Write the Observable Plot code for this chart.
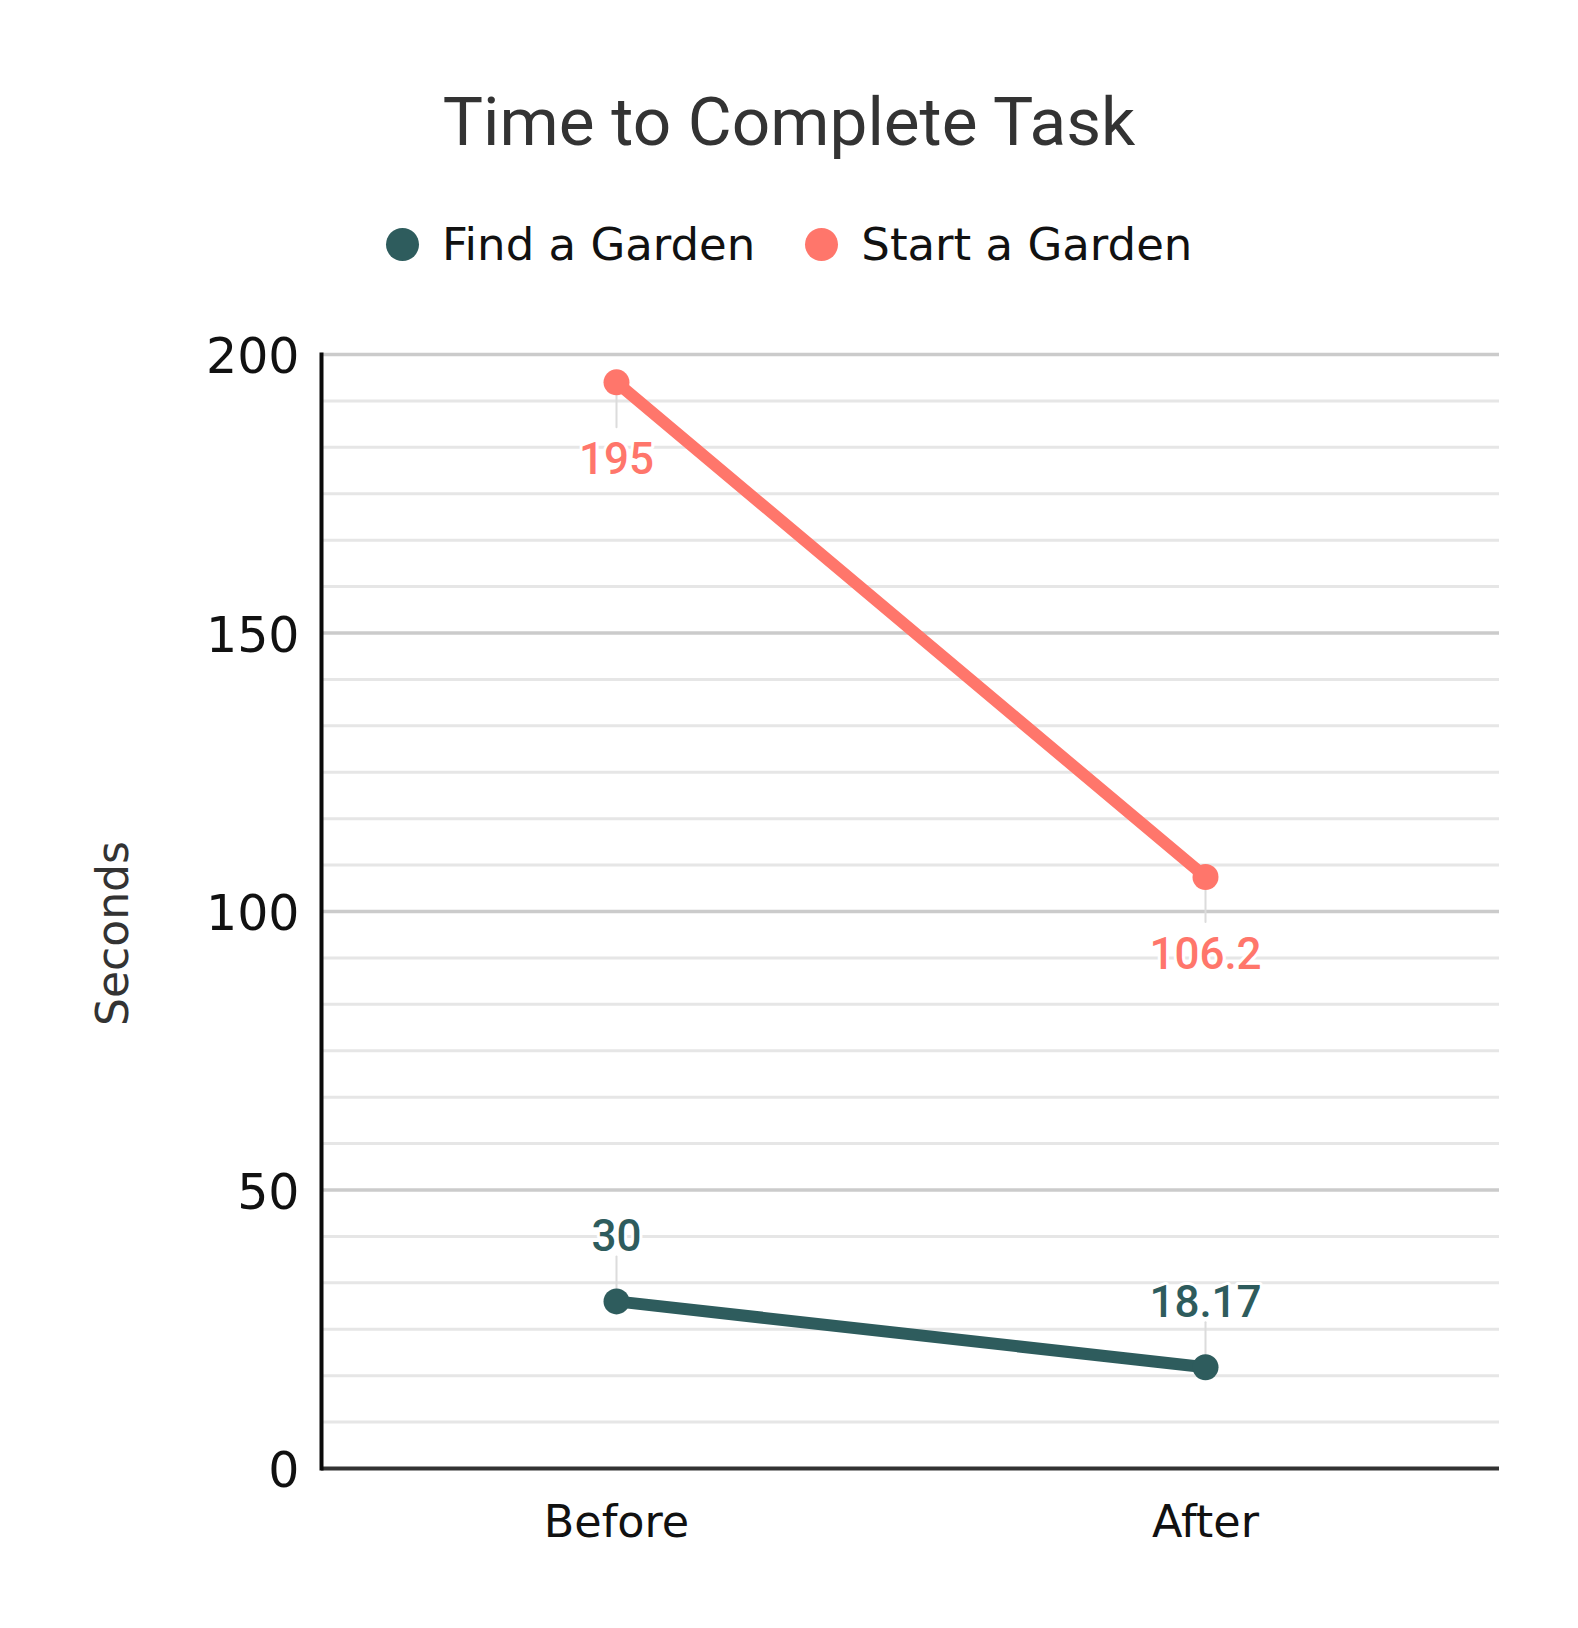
<!DOCTYPE html>
<html>
<head>
<meta charset="utf-8">
<script src="https://cdn.jsdelivr.net/npm/d3@7"></script>
<script src="https://cdn.jsdelivr.net/npm/@observablehq/plot@0.6"></script>
<style>
  html, body { margin: 0; padding: 0; background: #fff; }
  #page { position: relative; width: 1578px; height: 1628px; overflow: hidden; }
  #header { position: relative; width: 1578px; height: 290px; }
  #title { position: absolute; top: 88px; left: 0; width: 1578px; box-sizing: border-box; padding-right: 0px;
           text-align: center; font-family: Roboto, sans-serif; font-size: 67.5px; line-height: 67px; color: #333; }
  #legend { position: absolute; top: 222px; left: 386px; display: flex; align-items: center; height: 45px;
            font-family: "DejaVu Sans", sans-serif; font-size: 45px; line-height: 45px; color: #111; white-space: nowrap; }
  .item { display: flex; align-items: center; margin-right: 50px; }
  .swatch { width: 33px; height: 33px; border-radius: 50%; margin-right: 23px; }
  #chart svg { display: block; }
</style>
</head>
<body>
<div id="page">
  <div id="header">
    <div id="title"></div>
    <div id="legend"></div>
  </div>
  <div id="chart"></div>
</div>
<script>
const titleText = "Time to Complete Task";
const yLabel = "Seconds";
const categories = ["Before", "After"];
const seriesNames = ["Find a Garden", "Start a Garden"];
const seriesColors = ["#2e5c5d", "#ff766b"];
const findValues = [30, 18.17];
const startValues = [195, 106.2];
const findLabels = ["30", "18.17"];
const startLabels = ["195", "106.2"];
const yMajorTicks = [0, 50, 100, 150, 200];
const yMinorTicks = d3.range(0, 200, 50 / 6).filter((v, i) => i % 6 !== 0);

document.getElementById("title").textContent = titleText;
const legend = document.getElementById("legend");
seriesNames.forEach((name, i) => {
  const item = document.createElement("div");
  item.className = "item";
  const sw = document.createElement("span");
  sw.className = "swatch";
  sw.style.background = seriesColors[i];
  const tx = document.createElement("span");
  tx.textContent = name;
  item.appendChild(sw); item.appendChild(tx);
  legend.appendChild(item);
});

const table = [];
categories.forEach((c, i) => {
  table.push({category: c, value: findValues[i], label: findLabels[i], series: seriesNames[0], pos: "above"});
});
categories.forEach((c, i) => {
  table.push({category: c, value: startValues[i], label: startLabels[i], series: seriesNames[1], pos: "below"});
});
const above = table.filter(d => d.pos === "above");
const below = table.filter(d => d.pos === "below");

const leader = { draw(context, l) { context.moveTo(0, 0); context.lineTo(0, -l); } };

const chart = Plot.plot({
  width: 1578,
  height: 1338,
  marginTop: 64,
  marginBottom: 160,
  marginLeft: 321,
  marginRight: 79,
  style: { fontFamily: "DejaVu Sans, sans-serif", background: "white", overflow: "visible" },
  x: { type: "point", domain: categories, padding: 0.5 },
  y: { domain: [0, 200] },
  color: { domain: seriesNames, range: seriesColors },
  marks: [
    Plot.ruleY(yMinorTicks, { stroke: "#e6e6e6", strokeWidth: 3 }),
    Plot.ruleY(yMajorTicks.filter(v => v > 0), { stroke: "#cbcbcb", strokeWidth: 3.5 }),
    Plot.axisY({ ticks: yMajorTicks, tickSize: 0, tickPadding: 22, fontSize: 49, color: "#111", label: null, dy: 3 }),
    Plot.axisX({ tickSize: 0, tickPadding: 37, fontSize: 44.5, color: "#111", label: null }),
    Plot.text([yLabel], { frameAnchor: "left", textAnchor: "middle", text: d => d, rotate: -90, dx: -208, dy: 22, fontSize: 44, fill: "#333" }),
    Plot.vector(above, { x: "category", y: "value", length: 45, rotate: 0, anchor: "start", shape: leader, stroke: "#dcdcdc", strokeWidth: 2 }),
    Plot.vector(below, { x: "category", y: "value", length: 45, rotate: 180, anchor: "start", shape: leader, stroke: "#dcdcdc", strokeWidth: 2 }),
    Plot.line(table, { x: "category", y: "value", z: "series", stroke: "series", strokeWidth: 12 }),
    Plot.dot(table, { x: "category", y: "value", fill: "series", r: 13 }),
    Plot.text(above, { x: "category", y: "value", text: "label", fill: "series", dy: -64, fontSize: 44, fontWeight: 500, fontFamily: "Roboto", stroke: "white", strokeWidth: 6 }),
    Plot.text(below, { x: "category", y: "value", text: "label", fill: "series", dy: 78, fontSize: 44, fontWeight: 500, fontFamily: "Roboto", stroke: "white", strokeWidth: 6 }),
    Plot.ruleY([0], { stroke: "#333", strokeWidth: 4 }),
    Plot.frame({ anchor: "left", stroke: "#0a0a0a", strokeWidth: 4 })
  ]
});
document.getElementById("chart").appendChild(chart);
</script>
</body>
</html>
